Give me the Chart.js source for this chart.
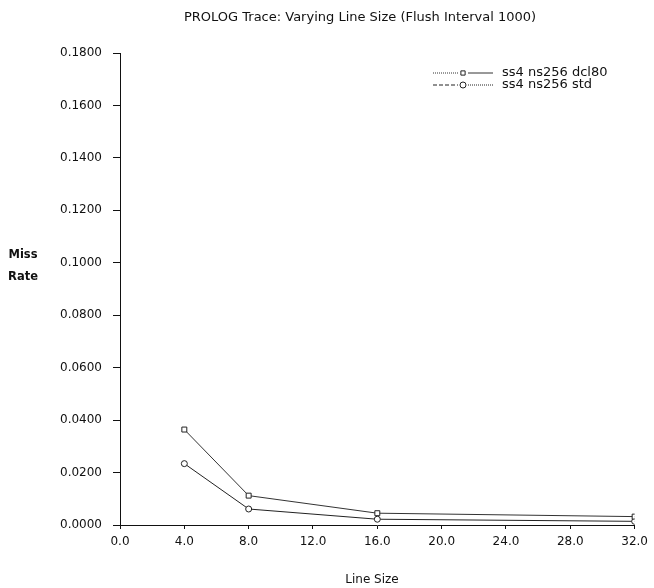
<!DOCTYPE html>
<html><head><meta charset="utf-8">
<script src="https://cdn.jsdelivr.net/npm/chart.js@4/dist/chart.umd.min.js"></script>
<style>html,body{margin:0;padding:0;background:#fff}#wrap{width:654px;height:588px;position:relative}</style>
</head><body><div id="wrap"><canvas id="c" width="654" height="588"></canvas></div>
<script>
const chartTitle = "PROLOG Trace: Varying Line Size (Flush Interval 1000)";
const xTitle = "Line Size";
const yTitleLines = ["Miss", "Rate"];
const lineSizes = [4, 8, 16, 32];
const seriesNames = ["ss4 ns256 dcl80", "ss4 ns256 std"];
const dcl80Rates = [0.0364, 0.0112, 0.0045, 0.0032];
const stdRates = [0.0234, 0.0061, 0.0022, 0.0014];
const xTickValues = [0, 4, 8, 12, 16, 20, 24, 28, 32];
const yTickValues = [0, 0.02, 0.04, 0.06, 0.08, 0.10, 0.12, 0.14, 0.16, 0.18];

const FONT = "DejaVu Sans";

function pts(ys) { return lineSizes.map((x, i) => ({ x: x, y: ys[i] })); }

const decor = {
  id: 'decor',
  afterDraw(chart) {
    const ctx = chart.ctx;
    ctx.save();
    ctx.fillStyle = '#111';
    ctx.textBaseline = 'middle';
    // title
    ctx.font = '13px "' + FONT + '"';
    ctx.textAlign = 'center';
    ctx.fillText(chartTitle, 360, 18);
    // x title
    ctx.font = '12px "' + FONT + '"';
    ctx.fillText(xTitle, 372, 580);
    // y title (horizontal, two lines)
    ctx.font = 'bold 11.5px "' + FONT + '"';
    ctx.fillText(yTitleLines[0], 23, 255);
    ctx.fillText(yTitleLines[1], 23, 277);
    // legend
    const rows = [73, 85];
    chart.data.datasets.forEach((ds, i) => {
      const y = rows[i];
      ctx.strokeStyle = ds.borderColor;
      ctx.lineWidth = 1;
      ctx.setLineDash(i === 0 ? [1, 1] : [4, 2]);
      ctx.beginPath(); ctx.moveTo(433, y); ctx.lineTo(458, y); ctx.stroke();
      ctx.setLineDash(i === 0 ? [] : [1, 1]);
      ctx.beginPath(); ctx.moveTo(468, y); ctx.lineTo(493, y); ctx.stroke();
      ctx.setLineDash([]);
      ctx.fillStyle = '#fff';
      ctx.strokeStyle = '#222';
      Chart.helpers.drawPoint(ctx, { pointStyle: ds.pointStyle, radius: 3, borderWidth: 1, rotation: 0 }, 463, y);
      ctx.fillStyle = '#111';
      ctx.font = '13px "' + FONT + '"';
      ctx.textAlign = 'left';
      ctx.fillText(ds.label, 502, y);
    });
    ctx.restore();
  }
};

new Chart(document.getElementById('c'), {
  type: 'line',
  data: {
    datasets: [
      { label: seriesNames[0], data: pts(dcl80Rates), borderColor: '#333', borderWidth: 1,
        pointStyle: 'rect', pointRadius: 3.5, pointBackgroundColor: '#fff', pointBorderColor: '#222', pointBorderWidth: 1, tension: 0 },
      { label: seriesNames[1], data: pts(stdRates), borderColor: '#222', borderWidth: 1,
        pointStyle: 'circle', pointRadius: 3, pointBackgroundColor: '#fff', pointBorderColor: '#222', pointBorderWidth: 1, tension: 0 }
    ]
  },
  options: {
    responsive: false,
    animation: false,
    devicePixelRatio: 1,
    layout: { padding: { top: 53, right: 17, left: 0, bottom: 0 } },
    plugins: { legend: { display: false }, title: { display: false }, tooltip: { enabled: false } },
    scales: {
      x: {
        type: 'linear', min: 0, max: 32,
        afterBuildTicks(s) { s.ticks = xTickValues.map(v => ({ value: v })); },
        afterFit(s) { s.height = 63; },
        grid: { display: true, drawOnChartArea: false, drawTicks: true, tickLength: 4, color: '#111' },
        border: { display: true, color: '#111', width: 1 },
        ticks: { padding: 6, color: '#111', font: { family: FONT, size: 12 }, maxRotation: 0,
          callback: v => Number(v).toFixed(1) }
      },
      y: {
        type: 'linear', min: 0, max: 0.18,
        afterBuildTicks(s) { s.ticks = yTickValues.map(v => ({ value: v })); },
        afterFit(s) { s.width = 120; },
        grid: { display: true, drawOnChartArea: false, drawTicks: true, tickLength: 7, color: '#111' },
        border: { display: true, color: '#111', width: 1 },
        ticks: { padding: 11, color: '#111', font: { family: FONT, size: 12 },
          callback: v => Number(v).toFixed(4) }
      }
    }
  },
  plugins: [decor]
});
</script></body></html>
